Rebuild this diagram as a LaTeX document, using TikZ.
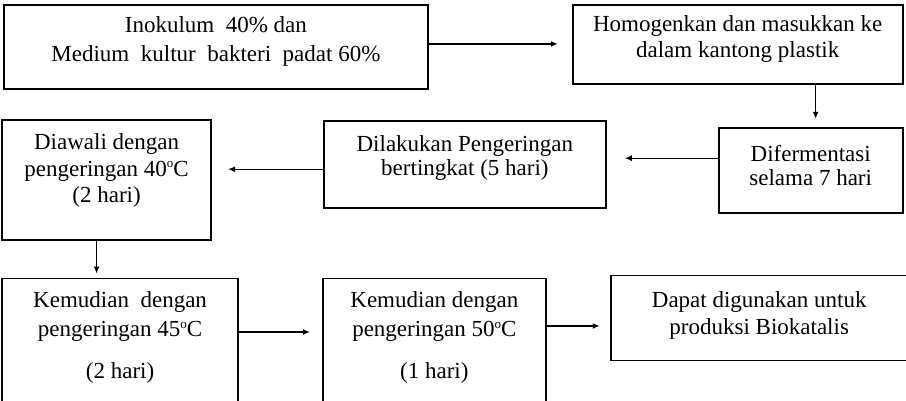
\documentclass[tikz,border=0pt]{standalone}
\usepackage{fontspec}
\setmainfont{Liberation Serif}
\usepackage{tikz}
\usetikzlibrary{arrows.meta,positioning}

\newcommand{\drj}{\raisebox{8.5pt}{\fontsize{13}{13}\selectfont o}}

\begin{document}
\begin{tikzpicture}[
  font=\fontsize{23}{24}\selectfont,
  box/.style={draw, line width=1.8pt, align=center, inner xsep=2pt, inner ysep=0pt},
  arr/.style={-{Latex[length=7pt,width=6pt]}, line width=1.4pt}
]
\useasboundingbox (0,0) rectangle (906pt,-400pt);
\node[box, anchor=north west, minimum width=424pt, text height=57pt, text depth=27pt] (inok) at (3pt,-4pt)
  {Inokulum\ \ 40\% dan\\[5pt] Medium\ \ kultur\ \ bakteri\ \ padat 60\%};
\node[box, right=143pt of inok.north east, anchor=north west, minimum width=330pt, text height=53pt, text depth=26pt] (homog)
  {Homogenkan dan masukkan ke\\[2pt] dalam kantong plastik};
\node[box, below=42pt of homog.south east, anchor=north east, minimum width=184pt, text height=58pt, text depth=27pt] (ferm)
  {Difermentasi\\ selama 7 hari};
\node[box, left=111pt of ferm.north west, anchor=north east, yshift=7pt, minimum width=282pt, text height=55pt, text depth=32pt] (kering)
  {Dilakukan Pengeringan\\ bertingkat (5 hari)};
\node[box, left=111pt of kering.north west, anchor=north east, yshift=1pt, minimum width=209pt, text height=83pt, text depth=37pt] (suhu40)
  {Diawali dengan\\[2.5pt] pengeringan 40\drj C\\[2.5pt] (2 hari)};
\node[box, below=37pt of suhu40.south west, anchor=north west, minimum width=236pt, text height=100pt, text depth=23pt] (suhu45)
  {Kemudian\ \ dengan\\[5pt] pengeringan 45\drj C\\[18pt] (2 hari)};
\node[box, right=83pt of suhu45.north east, anchor=north west, minimum width=223pt, text height=100pt, text depth=23pt] (suhu50)
  {Kemudian dengan\\[5pt] pengeringan 50\drj C\\[18pt] (1 hari)};
\node[box, right=63pt of suhu50.north east, anchor=north west, yshift=3pt, minimum width=297pt, text height=59pt, text depth=26pt] (hasil)
  {Dapat digunakan untuk\\[3pt] produksi Biokatalis};
\draw[arr, shorten >=14pt] ([yshift=3pt]inok.east) -- ([yshift=3pt]inok.east -| homog.west);
\draw[arr, shorten >=8pt] ([xshift=5pt]ferm.north |- homog.south) -- ([xshift=5pt]ferm.north);
\draw[arr, shorten >=18pt] ([yshift=12pt]ferm.west) -- ([yshift=12pt]ferm.west -| kering.east);
\draw[arr, shorten >=16pt] ([yshift=-5pt]kering.west) -- ([yshift=-5pt]kering.west -| suhu40.east);
\draw[arr, shorten >=4pt] ([xshift=-10pt]suhu40.south) -- ([xshift=-10pt]suhu40.south |- suhu45.north);
\draw[arr, shorten >=12pt] ([yshift=8pt]suhu45.east) -- ([yshift=8pt]suhu45.east -| suhu50.west);
\draw[arr, shorten >=10pt] ([yshift=14pt]suhu50.east) -- ([yshift=14pt]suhu50.east -| hasil.west);
\end{tikzpicture}
\end{document}
